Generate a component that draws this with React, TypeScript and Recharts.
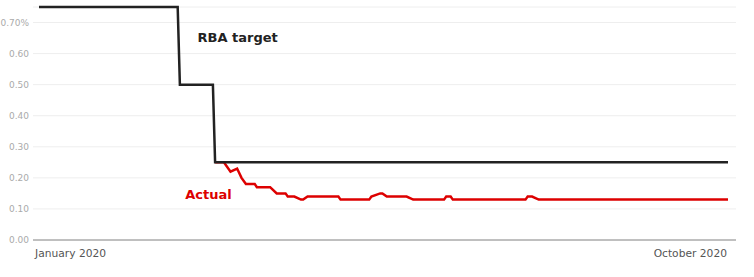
import React from "react";
import { LineChart, Line, XAxis, YAxis, CartesianGrid, ReferenceDot } from "recharts";

// days since 1 January 2020
const targetDays = [0, 63, 64, 79, 80, 313];
const targetValues = [0.75, 0.75, 0.5, 0.5, 0.25, 0.25];

const actualDays = [80, 84, 87, 90, 92, 94, 98, 99, 105, 108, 112, 113, 116, 119, 120, 122, 136, 137, 150, 151, 155, 156, 158, 167, 170, 184, 185, 187, 188, 221, 222, 224, 227, 313];
const actualValues = [0.25, 0.25, 0.22, 0.23, 0.2, 0.18, 0.18, 0.17, 0.17, 0.15, 0.15, 0.14, 0.14, 0.13, 0.13, 0.14, 0.14, 0.13, 0.13, 0.14, 0.15, 0.15, 0.14, 0.14, 0.13, 0.13, 0.14, 0.14, 0.13, 0.13, 0.14, 0.14, 0.13, 0.13];

const xTickDays = [0, 313];
const xTickLabels = ["January 2020", "October 2020"];
const yTicks = [0, 0.1, 0.2, 0.3, 0.4, 0.5, 0.6, 0.7];

const targetData = targetDays.map((d, i) => ({ day: d, value: targetValues[i] }));
const actualData = actualDays.map((d, i) => ({ day: d, value: actualValues[i] }));

const FONT = "'DejaVu Sans', Verdana, sans-serif";

const XTick = (props: any) => {
  const { x, y, payload, index } = props;
  const i = xTickDays.indexOf(payload.value);
  const first = i === 0;
  return (
    <text
      x={first ? x - 4 : x - 1}
      y={y + 5}
      dy="0.35em"
      textAnchor={first ? "start" : "end"}
      fill="#555"
      fontSize={10.7}
      fontFamily={FONT}
    >
      {xTickLabels[i >= 0 ? i : index]}
    </text>
  );
};

const makeLabel = (text: string, color: string) => (props: any) => {
  const vb = props.viewBox || {};
  return (
    <text x={vb.x} y={vb.y} dy="0.35em" fill={color} fontSize={13} fontWeight="bold" fontFamily={FONT}>
      {text}
    </text>
  );
};

export default function App() {
  return (
    <div style={{ position: "absolute", left: 0, top: 0, width: 754, height: 277, background: "#fff" }}>
      <LineChart width={754} height={277} margin={{ top: 7, right: 18, bottom: 0, left: 0 }}>
        <CartesianGrid horizontal={true} vertical={false} stroke="#eeeeee" />
        <XAxis
          dataKey="day"
          type="number"
          domain={[0, 313]}
          ticks={xTickDays}
          padding={{ left: 6, right: 8 }}
          height={37}
          axisLine={{ stroke: "#888", strokeWidth: 1 }}
          tickLine={false}
          tick={<XTick />}
          interval={0}
          allowDuplicatedCategory={false}
        />
        <YAxis
          type="number"
          domain={[0, 0.75]}
          ticks={yTicks}
          width={33}
          axisLine={false}
          tickLine={false}
          tickSize={0}
          tickMargin={4}
          interval={0}
          tick={{ fill: "#aaa", fontSize: 9, fontFamily: FONT }}
          tickFormatter={(v: number) => (Math.abs(v - 0.7) < 1e-9 ? "0.70%" : v.toFixed(2))}
        />
        <Line
          data={actualData}
          dataKey="value"
          type="linear"
          stroke="#dd0000"
          strokeWidth={2.5}
          dot={false}
          isAnimationActive={false}
        />
        <Line
          data={targetData}
          dataKey="value"
          type="linear"
          stroke="#222"
          strokeWidth={2.5}
          dot={false}
          isAnimationActive={false}
        />
        <ReferenceDot x={72} y={0.652} r={0} fill="none" stroke="none" label={makeLabel("RBA target", "#222")} />
        <ReferenceDot x={66.4} y={0.148} r={0} fill="none" stroke="none" label={makeLabel("Actual", "#dd0000")} />
      </LineChart>
    </div>
  );
}
